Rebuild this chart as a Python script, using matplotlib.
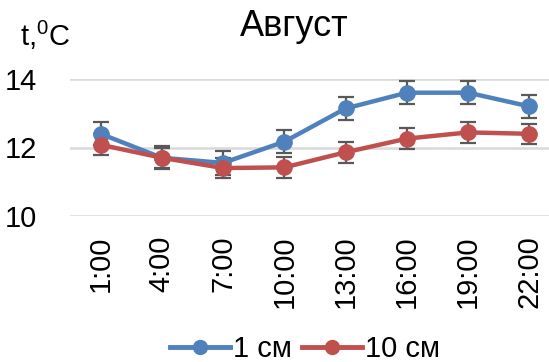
import numpy as np
import matplotlib
matplotlib.use("Agg")
import matplotlib.pyplot as plt
from matplotlib.lines import Line2D

plt.rcParams['font.family'] = ['Liberation Sans', 'DejaVu Sans']

# данные
hours = ["1:00", "4:00", "7:00", "10:00", "13:00", "16:00", "19:00", "22:00"]
t_1cm = [12.4, 11.7, 11.55, 12.17, 13.14, 13.6, 13.6, 13.2]
t_10cm = [12.08, 11.7, 11.4, 11.42, 11.86, 12.26, 12.44, 12.4]
err_1cm = [0.33, 0.33, 0.35, 0.33, 0.33, 0.33, 0.33, 0.33]
err_10cm = [0.3, 0.3, 0.3, 0.3, 0.3, 0.3, 0.3, 0.3]
names = ["1 см", "10 см"]

blue = "#4F81BD"
red = "#C0504D"

fig = plt.figure(figsize=(5.49, 3.62), dpi=100)
ax = fig.add_axes([70 / 549, 146 / 362, 490 / 549, 137 / 362])

x = np.arange(len(hours))
handles = []
for y, e, c, lab in [(t_1cm, err_1cm, blue, names[0]), (t_10cm, err_10cm, red, names[1])]:
    ax.errorbar(x, y, yerr=e, color=c, lw=3.2, marker='o', ms=11,
                ecolor="#595959", elinewidth=1.6, capsize=6, capthick=1.6,
                clip_on=False, zorder=3)
    handles.append(Line2D([], [], color=c, lw=3.5, marker='o', ms=10, label=lab))

ax.set_xlim(-0.5, 7.5)
ax.set_ylim(10, 14)
ax.set_yticks([10, 12, 14])
ax.set_xticks(x)
ax.set_xticklabels(hours, rotation=90, fontsize=21)
ax.tick_params(axis='y', labelsize=21, length=0, pad=24)
ax.tick_params(axis='x', length=0, pad=14)
ax.grid(axis='y', color="#D9D9D9", lw=1.8)
ax.set_axisbelow(True)
for s in ax.spines.values():
    s.set_visible(False)

fig.text(294 / 549, 1 - 26 / 362, "Август", fontsize=26, ha='center', va='center')
fig.text(20 / 549, 1 - 35 / 362, r"t,$^{\mathregular{0}}$C", fontsize=21, ha='left', va='center')

fig.legend(handles=handles, loc='center', bbox_to_anchor=(305 / 549, 1 - 349 / 362),
           ncol=2, frameon=False, fontsize=21, handlelength=2.05, handletextpad=0.1,
           columnspacing=0.35, borderpad=0)

fig.savefig("out.png", dpi=100)
